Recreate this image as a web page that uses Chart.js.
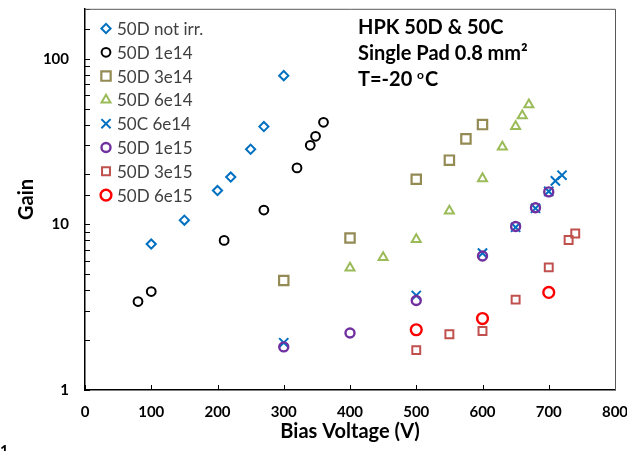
<!DOCTYPE html>
<html>
<head>
<meta charset="utf-8">
<script src="https://cdn.jsdelivr.net/npm/chart.js@4.4.0/dist/chart.umd.min.js"></script>
<style>
  html, body { margin: 0; padding: 0; background: #fff; }
  #wrap { width: 627px; height: 451px; }
</style>
</head>
<body>
<div id="wrap"><canvas id="gain-chart" width="627" height="451"></canvas></div>
<script>
// values (bias voltage in V, gain)
const notIrrV = [100, 150, 200, 220, 250, 270, 300];
const notIrrGain = [7.6, 10.6, 16.0, 19.3, 28.4, 38.9, 79];

const d1e14V = [80, 100, 210, 270, 320, 340, 348, 360];
const d1e14Gain = [3.42, 3.93, 8.0, 12.2, 21.9, 30.0, 34.0, 41.3];

const d3e14V = [300, 400, 500, 550, 575, 600];
const d3e14Gain = [4.58, 8.27, 18.7, 24.4, 32.8, 40.0];

const d6e14V = [400, 450, 500, 550, 600, 630, 650, 660, 670];
const d6e14Gain = [5.46, 6.32, 8.11, 12.05, 18.9, 29.3, 39.0, 45.3, 52.7];

const c6e14V = [300, 500, 600, 650, 680, 700, 710, 720];
const c6e14Gain = [1.93, 3.72, 6.7, 9.6, 12.5, 15.8, 18.3, 19.8];

const d1e15V = [300, 400, 500, 600, 650, 680, 700];
const d1e15Gain = [1.82, 2.21, 3.47, 6.44, 9.7, 12.6, 15.7];

const d3e15V = [500, 550, 600, 650, 700, 730, 740];
const d3e15Gain = [1.74, 2.17, 2.27, 3.51, 5.5, 8.04, 8.8];

const d6e15V = [500, 600, 700];
const d6e15Gain = [2.31, 2.70, 3.88];

const xTicks = [0, 800, 100]; // min, max, step
const yLabels = [1, 10, 100];
const noteLines = ['HPK 50D & 50C', 'Single Pad 0.8 mm\u00B2'];

const FONT = 'Lato';

function pts(xs, ys) {
    return xs.map((v, i) => ({ x: v, y: ys[i] }));
}

const series = [
    { label: '50D not irr.', xs: notIrrV, ys: notIrrGain, color: '#0070C0', style: 'rectRot', r: 4.6, bw: 2 },
    { label: '50D 1e14', xs: d1e14V, ys: d1e14Gain, color: '#000000', style: 'circle', r: 4.4, bw: 2 },
    { label: '50D 3e14', xs: d3e14V, ys: d3e14Gain, color: '#948A54', style: 'rect', r: 6.6, bw: 2.2 },
    { label: '50D 6e14', xs: d6e14V, ys: d6e14Gain, color: '#9BBB59', style: 'triangle', r: 5.2, bw: 2 },
    { label: '50C 6e14', xs: c6e14V, ys: c6e14Gain, color: '#0070C0', style: 'crossRot', r: 6.5, bw: 2 },
    { label: '50D 1e15', xs: d1e15V, ys: d1e15Gain, color: '#7030A0', style: 'circle', r: 4.5, bw: 2.4 },
    { label: '50D 3e15', xs: d3e15V, ys: d3e15Gain, color: '#C0504D', style: 'rect', r: 5.6, bw: 2 },
    { label: '50D 6e15', xs: d6e15V, ys: d6e15Gain, color: '#FF0000', style: 'circle', r: 5.4, bw: 2.4 }
];

// short inward tick marks, plot frame, legend and notes
const extras = {
    id: 'extras',
    afterDraw(chart) {
        const { ctx, chartArea: a, scales: { x, y } } = chart;
        ctx.save();
        ctx.strokeStyle = '#000';
        ctx.lineWidth = 1;
        ctx.beginPath();
        x.ticks.forEach(t => {
            const px = Math.round(x.getPixelForValue(t.value)) + 0.5;
            ctx.moveTo(px, a.bottom);
            ctx.lineTo(px, a.bottom - 5);
        });
        y.ticks.forEach(t => {
            const py = Math.round(y.getPixelForValue(t.value)) + 0.5;
            ctx.moveTo(a.left, py);
            ctx.lineTo(a.left + 5, py);
        });
        ctx.stroke();

        ctx.strokeStyle = '#595959';
        ctx.beginPath();
        ctx.moveTo(a.left, a.top + 0.5);
        ctx.lineTo(a.right + 0.5, a.top + 0.5);
        ctx.lineTo(a.right + 0.5, a.bottom);
        ctx.stroke();

        // legend
        ctx.textBaseline = 'middle';
        ctx.textAlign = 'left';
        ctx.font = '17px ' + FONT;
        series.forEach((s, i) => {
            const ly = 28.5 + i * 23.8;
            ctx.strokeStyle = s.color;
            ctx.fillStyle = 'rgba(0,0,0,0)';
            ctx.lineWidth = s.bw;
            Chart.helpers.drawPoint(ctx, { pointStyle: s.style, radius: s.r, borderWidth: s.bw, rotation: 0 }, 106, ly);
            ctx.fillStyle = '#404040';
            ctx.fillText(s.label, 117, ly + 1);
        });

        // notes
        ctx.fillStyle = '#000';
        ctx.font = 'bold 20px ' + FONT;
        noteLines.forEach((t, i) => ctx.fillText(t, 358, 28 + i * 26));
        let tx = 358;
        const ty = 80;
        ctx.fillText('T=-20 ', tx, ty);
        tx += ctx.measureText('T=-20 ').width;
        ctx.font = 'bold 12px ' + FONT;
        ctx.fillText('o', tx, ty - 5);
        tx += ctx.measureText('o').width + 1;
        ctx.font = 'bold 20px ' + FONT;
        ctx.fillText('C', tx, ty);

        // stray label at the bottom-left corner
        ctx.font = 'bold 15px ' + FONT;
        ctx.textBaseline = 'alphabetic';
        ctx.fillText('1', 0, 456);
        ctx.restore();
    }
};

new Chart(document.getElementById('gain-chart').getContext('2d'), {
    type: 'scatter',
    data: {
        datasets: series.map((s, i) => ({
            label: s.label,
            data: pts(s.xs, s.ys),
            showLine: false,
            order: -i,
            pointStyle: s.style,
            pointRadius: s.r,
            pointHoverRadius: s.r,
            pointBorderWidth: s.bw,
            borderColor: s.color,
            backgroundColor: 'rgba(0,0,0,0)'
        }))
    },
    options: {
        responsive: false,
        animation: false,
        layout: { padding: { top: 6, right: 12, left: 0, bottom: 0 } },
        plugins: {
            legend: { display: false },
            tooltip: { enabled: false }
        },
        scales: {
            x: {
                type: 'linear',
                min: xTicks[0],
                max: xTicks[1],
                afterFit: s => { s.height = 61; s.paddingLeft = 0; s.paddingRight = 0; },
                ticks: {
                    stepSize: xTicks[2],
                    padding: 13,
                    color: '#000',
                    font: { family: FONT, size: 15, weight: 'bold' }
                },
                grid: { display: true, drawOnChartArea: false, drawTicks: false },
                border: { color: '#000', width: 1.5 },
                title: {
                    display: true,
                    text: 'Bias Voltage (V)',
                    color: '#000',
                    font: { family: FONT, size: 20, weight: 'bold' },
                    padding: { top: 0, bottom: 7 }
                }
            },
            y: {
                type: 'logarithmic',
                min: 1,
                max: 200,
                afterFit: s => { s.width = 85; s.paddingTop = 0; s.paddingBottom = 0; },
                ticks: {
                    autoSkip: false,
                    padding: 16,
                    color: '#000',
                    font: { family: FONT, size: 15, weight: 'bold' },
                    callback: v => yLabels.includes(v) ? String(v) : ''
                },
                grid: { display: true, drawOnChartArea: false, drawTicks: false },
                border: { color: '#000', width: 1.5 },
                title: {
                    display: true,
                    text: 'Gain',
                    color: '#000',
                    font: { family: FONT, size: 20, weight: 'bold' },
                    padding: { top: 15, bottom: 0 }
                }
            }
        }
    },
    plugins: [extras]
});
</script>
</body>
</html>
